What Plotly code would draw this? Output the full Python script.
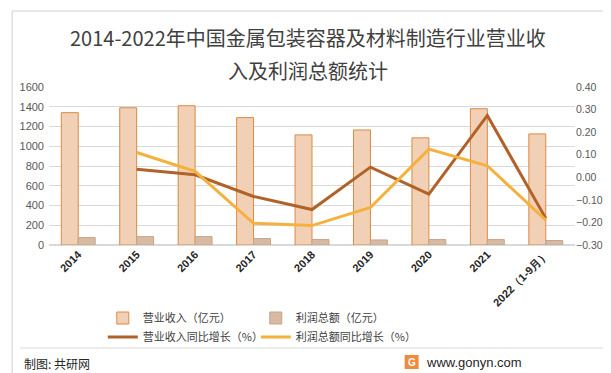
import plotly.graph_objects as go

categories = ["2014", "2015", "2016", "2017", "2018", "2019", "2020", "2021", "2022（1-9月）"]
revenue = [1340, 1390, 1410, 1290, 1115, 1165, 1085, 1380, 1125]
profit = [75, 85, 85, 65, 55, 51, 55, 55, 45]
revenue_growth = [None, 0.036, 0.011, -0.085, -0.143, 0.045, -0.075, 0.274, -0.182]
profit_growth = [None, 0.110, 0.026, -0.204, -0.214, -0.134, 0.125, 0.051, -0.190]
title_lines = ["2014-2022年中国金属包装容器及材料制造行业营业收", "入及利润总额统计"]

W, H = 611, 373
L, R, T, B = 39, 44, 79, 136
pw, ph = W - L - R, H - T - B

def px(x):
    return (x - L) / pw

def py(y):
    return (H - B - y) / ph

fig = go.Figure()
fig.add_trace(go.Bar(x=categories, y=revenue, name="营业收入（亿元）", legend="legend",
                     marker=dict(color="#F2D0B5", line=dict(color="#DA8A45", width=1))))
fig.add_trace(go.Bar(x=categories, y=profit, name="利润总额（亿元）", legend="legend",
                     marker=dict(color="#D8BAA3", line=dict(color="#C4A48A", width=1))))
fig.add_trace(go.Scatter(x=categories, y=revenue_growth, name="营业收入同比增长（%）", legend="legend2",
                         mode="lines", yaxis="y2", line=dict(color="#B0622A", width=3)))
fig.add_trace(go.Scatter(x=categories, y=profit_growth, name="利润总额同比增长（%）", legend="legend2",
                         mode="lines", yaxis="y2", line=dict(color="#F5B13D", width=3)))

font_family = "Noto Sans CJK SC, Noto Sans, sans-serif"
legend_common = dict(orientation="h", xanchor="left", yanchor="middle",
                     entrywidth=108, font=dict(size=11, color="#404040"),
                     bgcolor="rgba(0,0,0,0)", tracegroupgap=0, itemwidth=30)

fig.update_layout(
    width=W, height=H,
    margin=dict(l=L, r=R, t=T, b=B),
    paper_bgcolor="white", plot_bgcolor="white",
    font=dict(family=font_family, color="#595959", size=11),
    barmode="group", bargap=0.42, bargroupgap=0,
    showlegend=True,
    legend=dict(x=px(93), y=py(310), **legend_common),
    legend2=dict(x=px(93), y=py(329), **legend_common),
    xaxis=dict(tickangle=-45,
               tickfont=dict(size=11, color="#262626", family="Liberation Sans, Arial", weight="bold"),
               showline=False, ticks=""),
    yaxis=dict(range=[0, 1600], dtick=200, showgrid=True, gridcolor="#D9D9D9", gridwidth=1,
               zeroline=True, zerolinecolor="#D9D9D9",
               tickfont=dict(size=11, color="#595959", family="Liberation Sans, Arial"),
               ticks="", ticklabelstandoff=4),
    yaxis2=dict(range=[-0.3, 0.4], dtick=0.1, tickformat=".2f", overlaying="y", side="right",
                showgrid=False, zeroline=False,
                tickfont=dict(size=10.5, color="#595959", family="Liberation Sans, Arial"),
                ticks="", ticklabelstandoff=0),
)

for line_text, yy in zip(title_lines, [30, 62]):
    fig.add_annotation(text=line_text, xref="paper", yref="paper", x=px(299), y=py(yy),
                       xanchor="center", yanchor="middle", showarrow=False,
                       font=dict(size=20, color="#404040", family=font_family))

# footer separator
fig.add_shape(type="line", xref="paper", yref="paper", x0=px(10), x1=px(598), y0=py(340), y1=py(340),
              line=dict(color="#D9D9D9", width=1))
# outer border
fig.add_shape(type="rect", xref="paper", yref="paper", x0=px(2), x1=px(607), y0=py(3), y1=py(368),
              line=dict(color="#D0D0D0", width=1))

fig.add_annotation(text="制图: 共研网", xref="paper", yref="paper", x=px(12), y=py(355),
                   xanchor="left", yanchor="middle", showarrow=False,
                   font=dict(size=12, color="#262626", family=font_family))
fig.add_shape(type="rect", xref="paper", yref="paper", x0=px(396), x1=px(410), y0=py(347), y1=py(361),
              fillcolor="#F08A3C", line=dict(width=0))
fig.add_annotation(text="<b>G</b>", xref="paper", yref="paper", x=px(403), y=py(354),
                   xanchor="center", yanchor="middle", showarrow=False,
                   font=dict(size=10, color="white", family="Liberation Sans"))
fig.add_annotation(text="www.gonyn.com", xref="paper", yref="paper", x=px(415), y=py(354),
                   xanchor="left", yanchor="middle", showarrow=False,
                   font=dict(size=13, color="#262626", family="Liberation Sans, Arial"))

fig.write_html("out.html")
